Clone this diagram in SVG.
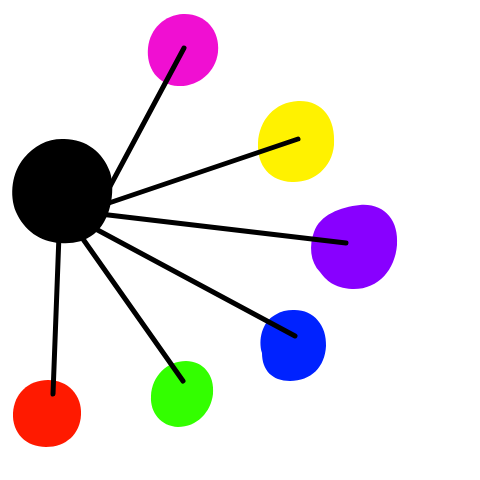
<svg xmlns="http://www.w3.org/2000/svg" width="480" height="480" viewBox="0 0 480 480">
<style>
.edge{stroke:#000;stroke-width:5;stroke-linecap:round;fill:none}
</style>
<rect width="480" height="480" fill="#fff"/>
<g id="node-magenta"><path d="M183,14 C205,13 220,30 218,52 C216,72 198,87 178,86 C158,85 146,68 148,48 C150,28 165,15 183,14 Z" fill="#f00fd2"/></g>
<g id="node-yellow"><path d="M298,101 C322,100 336,118 334,145 C332,168 313,183 292,182 C270,181 257,166 258,143 C259,120 275,102 298,101 Z" fill="#fff200"/></g>
<g id="node-purple"><path d="M360,205 C384,203 399,220 397,245 C395,270 378,290 352,289 C334,288 326,280 320,272 C310,262 309,245 314,232 C320,215 340,207 360,205 Z" fill="#8800ff"/></g>
<g id="node-blue"><path d="M293,310 C313,309 327,325 326,346 C325,367 311,381 290,381 C272,381 262,370 262,353 C258,340 262,322 275,315 C281,311 287,310 293,310 Z" fill="#0022ff"/></g>
<g id="node-green"><path d="M186,361 C203,361 215,375 213,394 C211,412 197,427 178,427 C161,426 150,413 151,396 C152,376 167,361 186,361 Z" fill="#33ff00"/></g>
<g id="node-red"><path d="M48,380 C68,380 82,395 81,415 C80,434 66,447 46,447 C26,447 12,433 13,413 C14,394 28,380 48,380 Z" fill="#ff1a00"/></g>
<g id="connectors">
<line class="edge" x1="100" y1="205" x2="184" y2="48"/>
<line class="edge" x1="100" y1="206" x2="298" y2="139"/>
<line class="edge" x1="100" y1="214" x2="346" y2="243"/>
<line class="edge" x1="92" y1="227" x2="295" y2="336"/>
<line class="edge" x1="78" y1="232" x2="183" y2="381"/>
<line class="edge" x1="59" y1="235" x2="53" y2="394"/>
</g>
<g id="node-black"><path d="M62,139 C85,138 103,152 110,172 C116,192 110,222 94,234 C84,242 72,244 60,243 C40,242 24,230 16,212 C9,195 12,172 24,158 C34,146 47,139 62,139 Z" fill="#000"/></g>
</svg>
